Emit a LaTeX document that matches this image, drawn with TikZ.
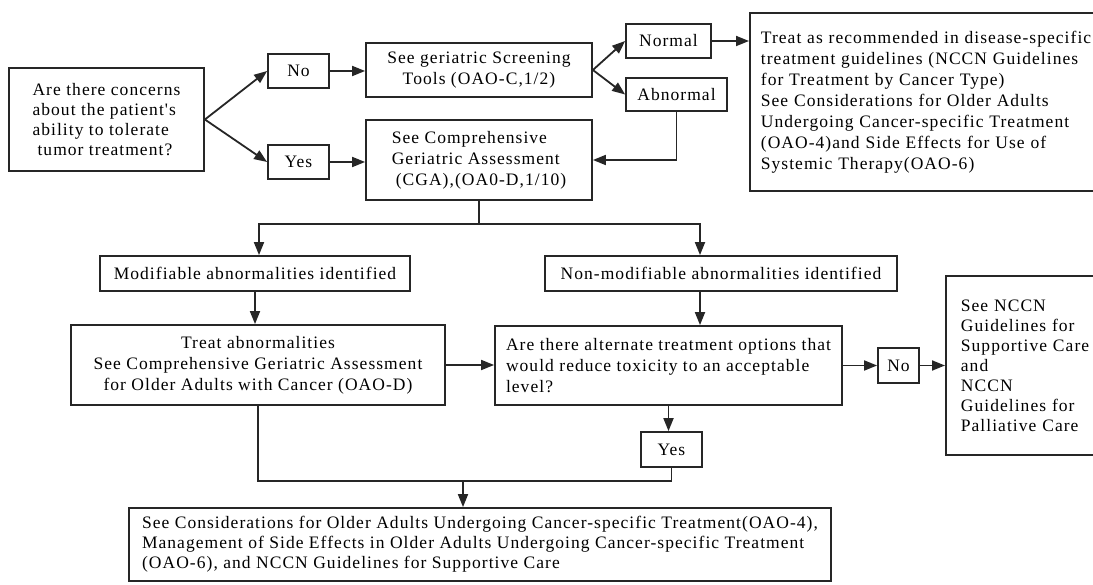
\documentclass[tikz,border=0pt]{standalone}
\usepackage{fontspec}
\setmainfont{Liberation Serif}[LetterSpace=6,Ligatures=TeXOff]
\usetikzlibrary{arrows.meta,calc}
\newcommand\fsA{\fontsize{17.5}{21}\selectfont}
\newcommand\fsB{\fontsize{17.5}{20}\selectfont}
\begin{document}
\begin{tikzpicture}[x=1pt,y=-1pt,
  box/.style={draw=black!85, line width=1.8pt, inner sep=0pt, font=\fsA, text=black},
  arr/.style={draw=black!85, line width=1.8pt, -{Triangle[length=13pt,width=10pt,fill=black!85]}},
  ln/.style={draw=black!85, line width=1.8pt}]
\useasboundingbox (0,0) rectangle (1093,585);

\node[box, minimum width=195pt, minimum height=103pt, align=left, font=\fsB] (q) at (106.5,119.5)
  {Are there concerns\\about the patient's\\ability to tolerate\\\hspace*{5pt}tumor treatment?};
\node[box, minimum width=61pt, minimum height=34pt] (no1) at (298.5,71) {No};
\node[box, minimum width=61pt, minimum height=34pt] (yes1) at (298.5,162) {Yes};
\node[box, minimum width=226pt, minimum height=54pt, align=center] (scr) at (479,70)
  {See geriatric Screening\\Tools (OAO-C,1/2)};
\node[box, minimum width=226pt, minimum height=80pt, align=left] (cga) at (479,160)
  {See Comprehensive\\Geriatric Assessment\\\hspace*{4pt}(CGA),(OA0-D,1/10)};
\node[box, minimum width=85pt, minimum height=34pt] (nor) at (668.5,41) {Normal};
\node[box, minimum width=101pt, minimum height=33pt] (abn) at (676.5,94.5) {Abnormal};
\node[box, anchor=west, minimum height=178pt, text width=345pt, inner xsep=11pt, align=left] (r1) at (749,102)
  {Treat as recommended in disease-specific\\treatment guidelines (NCCN Guidelines\\for Treatment by Cancer Type)\\See Considerations for Older Adults\\Undergoing Cancer-specific Treatment\\(OAO-4)and Side Effects for Use of\\Systemic Therapy(OAO-6)};
\node[box, minimum width=310pt, minimum height=35pt] (mod) at (255,273.5) {Modifiable abnormalities identified};
\node[box, minimum width=352pt, minimum height=35pt] (nmod) at (721,273.5) {Non-modifiable abnormalities identified};
\node[box, minimum width=374pt, minimum height=80pt, align=center] (trt) at (258,365)
  {Treat abnormalities\\See Comprehensive Geriatric Assessment\\for Older Adults with Cancer (OAO-D)};
\node[box, minimum width=347pt, minimum height=79pt, align=left] (alt) at (668.5,365.5)
  {Are there alternate treatment options that\\would reduce toxicity to an acceptable\\level?};
\node[box, minimum width=41pt, minimum height=35pt] (no2) at (898.5,365.5) {No};
\node[box, anchor=west, minimum height=179pt, text width=150pt, inner xsep=15pt, align=left, font=\fsB] (r2) at (945,365.5)
  {See NCCN\\Guidelines for\\Supportive Care\\and\\NCCN\\Guidelines for\\Palliative Care};
\node[box, minimum width=61pt, minimum height=35pt] (yes2) at (671.5,449.5) {Yes};
\node[box, minimum width=702pt, minimum height=73pt, align=left, font=\fsB] (fin) at (480,544.5)
  {See Considerations for Older Adults Undergoing Cancer-specific Treatment(OAO-4),\\Management of Side Effects in Older Adults Undergoing Cancer-specific Treatment\\(OAO-6), and NCCN Guidelines for Supportive Care};

\coordinate (sL) at (259,224);
\coordinate (sR) at (700,224);
\coordinate (m) at (463,481);

\draw[arr] (q.east) -- (no1.west);
\draw[arr] (q.east) -- (yes1.west);
\draw[arr] (no1.east) -- (no1.east -| scr.west);
\draw[arr] (yes1.east) -- (yes1.east -| cga.west);
\draw[arr] (scr.east) -- (nor.west);
\draw[arr] (scr.east) -- (abn.west);
\draw[arr] (nor.east) -- (nor.east -| r1.west);
\draw[arr] (abn.south) |- (cga.east);
\draw[ln] (cga.south) -- (cga.south |- sL);
\draw[arr] (cga.south |- sL) -| (sL |- mod.north);
\draw[arr] (cga.south |- sL) -| (sR |- nmod.north);
\draw[arr] (mod.south) -- (mod.south |- trt.north);
\draw[arr] (sR |- nmod.south) -- (sR |- alt.north);
\draw[arr] (trt.east) -- (trt.east -| alt.west);
\draw[arr] (alt.east) -- (no2.west);
\draw[arr] (no2.east) -- (no2.east -| r2.west);
\draw[arr] (alt.south) -- (alt.south |- yes2.north);
\draw[ln] (trt.south) |- (m) -| (yes2.south);
\draw[arr] (m) -- (m |- fin.north);
\end{tikzpicture}
\end{document}
